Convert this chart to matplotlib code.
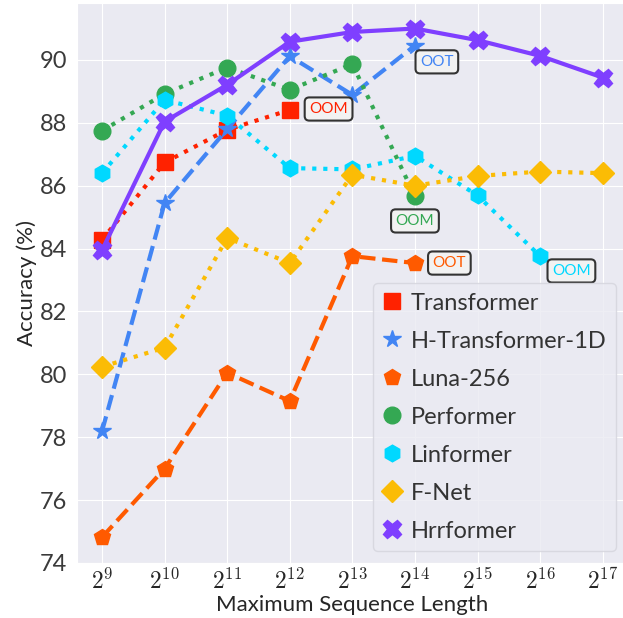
import matplotlib
matplotlib.use("Agg")
import matplotlib.pyplot as plt
from matplotlib.lines import Line2D
import seaborn as sns

# x positions are log2 of the sequence length
seq_exp = [9, 10, 11, 12, 13, 14, 15, 16, 17]

transformer = [84.28, 86.74, 87.78, 88.41]
h_transformer = [78.19, 85.45, 87.80, 90.12, 88.89, 90.46]
luna = [74.82, 77.00, 80.05, 79.15, 83.76, 83.54]
performer = [87.75, 88.92, 89.76, 89.05, 89.87, 85.66]
linformer = [86.40, 88.73, 88.23, 86.56, 86.52, 86.95, 85.69, 83.76]
fnet = [80.24, 80.85, 84.34, 83.54, 86.35, 86.00, 86.31, 86.45, 86.40]
hrrformer = [83.95, 88.04, 89.21, 90.58, 90.89, 91.00, 90.63, 90.13, 89.44]

names = ["Transformer", "H-Transformer-1D", "Luna-256", "Performer",
         "Linformer", "F-Net", "Hrrformer"]
series = [transformer, h_transformer, luna, performer, linformer, fnet, hrrformer]
colors = ["#FF2200", "#4285F4", "#FF5A00", "#34A853", "#00D8FF", "#FBBC05", "#7F3FFF"]
markers = ["s", "*", "p", "o", "h", "D", "X"]
styles = [":", "--", "--", ":", ":", ":", "-"]
msizes = [11, 13, 12, 12, 12, 11, 13]

# out-of-memory / out-of-time notes: (text, series index, x, y)
notes = [("OOM", 0, 12.62, 88.44),
         ("OOT", 1, 14.35, 89.94),
         ("OOM", 3, 14.0, 84.88),
         ("OOT", 2, 14.55, 83.54),
         ("OOM", 4, 16.5, 83.29)]

sns.set_style("darkgrid")
plt.rcParams["font.family"] = ["Lato", "DejaVu Sans"]
plt.rcParams["mathtext.fontset"] = "cm"

fig = plt.figure(figsize=(6.23, 6.18), dpi=100)
ax = fig.add_axes([0.1236, 0.089, 0.884, 0.906])

for vals, name, c, m, ls, ms in zip(series, names, colors, markers, styles, msizes):
    ax.plot(seq_exp[:len(vals)], vals, color=c, marker=m, linestyle=ls,
            lw=3, markersize=ms, label=name)

for txt, i, x, y in notes:
    ax.text(x, y, txt, color=colors[i], fontsize=11, ha="center", va="center",
            bbox=dict(boxstyle="round,pad=0.3", fc="#F2F2F2", ec="#333333", lw=1.5))

ax.set_xticks(seq_exp)
ax.set_xticklabels([r"$2^{%d}$" % e for e in seq_exp])
ax.set_yticks(range(74, 91, 2))
ax.tick_params(axis="x", labelsize=17, pad=0)
ax.tick_params(axis="y", labelsize=17, labelcolor="#3a3a3a")
ax.set_xlabel("Maximum Sequence Length", fontsize=16, labelpad=1)
ax.set_ylabel("Accuracy (%)", fontsize=16, labelpad=2)

handles = [Line2D([], [], color=c, marker=m, linestyle="none", markersize=ms)
           for c, m, ms in zip(colors, markers, msizes)]
leg = ax.legend(handles, names, loc="lower right", frameon=True,
                handlelength=0.8, handletextpad=0.4, labelspacing=0.72,
                borderaxespad=0.5, prop={"size": 17}, labelcolor="#333333")
leg.get_frame().set_facecolor("#EAEAF2")
leg.get_frame().set_edgecolor("#D4D4DC")

fig.savefig("out.png", dpi=100)
